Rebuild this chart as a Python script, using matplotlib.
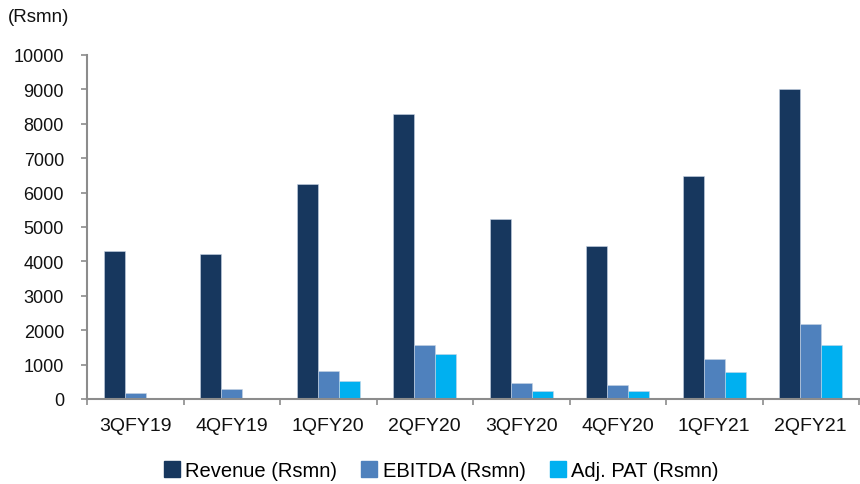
import matplotlib
matplotlib.use("Agg")
import matplotlib.pyplot as plt
from matplotlib.lines import Line2D
import numpy as np

plt.rcParams['font.family'] = ['Liberation Sans', 'DejaVu Sans']

quarters = ["3QFY19", "4QFY19", "1QFY20", "2QFY20", "3QFY20", "4QFY20", "1QFY21", "2QFY21"]
revenue = [4310, 4215, 6240, 8295, 5235, 4455, 6475, 9010]
ebitda = [175, 280, 825, 1580, 450, 410, 1175, 2170]
adj_pat = [15, 10, 515, 1300, 245, 225, 775, 1560]

series_names = ["Revenue (Rsmn)", "EBITDA (Rsmn)", "Adj. PAT (Rsmn)"]
colors = ["#17375E", "#4F81BD", "#00B0F0"]

fig = plt.figure(figsize=(8.6, 4.85), dpi=100)
ax = fig.add_axes([0.1012, 0.1753, 0.8977, 0.7093])

x = np.arange(len(quarters))
w = 0.218
for i, (vals, c) in enumerate(zip([revenue, ebitda, adj_pat], colors)):
    ax.bar(x + (i - 1) * w, vals, width=w, color=c, edgecolor="#c8d4e4", linewidth=0.4)

ax.set_xlim(-0.5, len(quarters) - 0.5)
ax.set_ylim(0, 10000)
ax.set_yticks(np.arange(0, 10001, 1000))

axis_color = "#8c8c8c"
for s in ["top", "right"]:
    ax.spines[s].set_visible(False)
for s in ["left", "bottom"]:
    ax.spines[s].set_color(axis_color)
    ax.spines[s].set_linewidth(1.5)

txt = "#111111"
ax.tick_params(axis="y", direction="out", length=4, width=1.2, color=axis_color,
               labelsize=13, pad=12.5, labelcolor=txt)
ax.set_xticks(x)
ax.set_xticklabels(quarters)
ax.set_xticks(np.arange(-0.5, len(quarters), 1.0), minor=True)
ax.tick_params(axis="x", which="major", length=0, labelsize=14, pad=13, labelcolor=txt)
ax.tick_params(axis="x", which="minor", direction="out", length=4, width=1.2, color=axis_color)

fig.text(0.009, 0.963, "(Rsmn)", fontsize=13.5, color=txt, va="center", ha="left")

handles = [Line2D([], [], linestyle="none", marker="s", markersize=11,
                  markerfacecolor=c, markeredgecolor=c) for c in colors]
fig.legend(handles, series_names, loc="center", bbox_to_anchor=(0.513, 0.027),
           ncol=3, frameon=False, fontsize=14.5, handlelength=0.8,
           handletextpad=0.25, columnspacing=1.2, borderpad=0.2)

fig.savefig("out.png", dpi=100)
